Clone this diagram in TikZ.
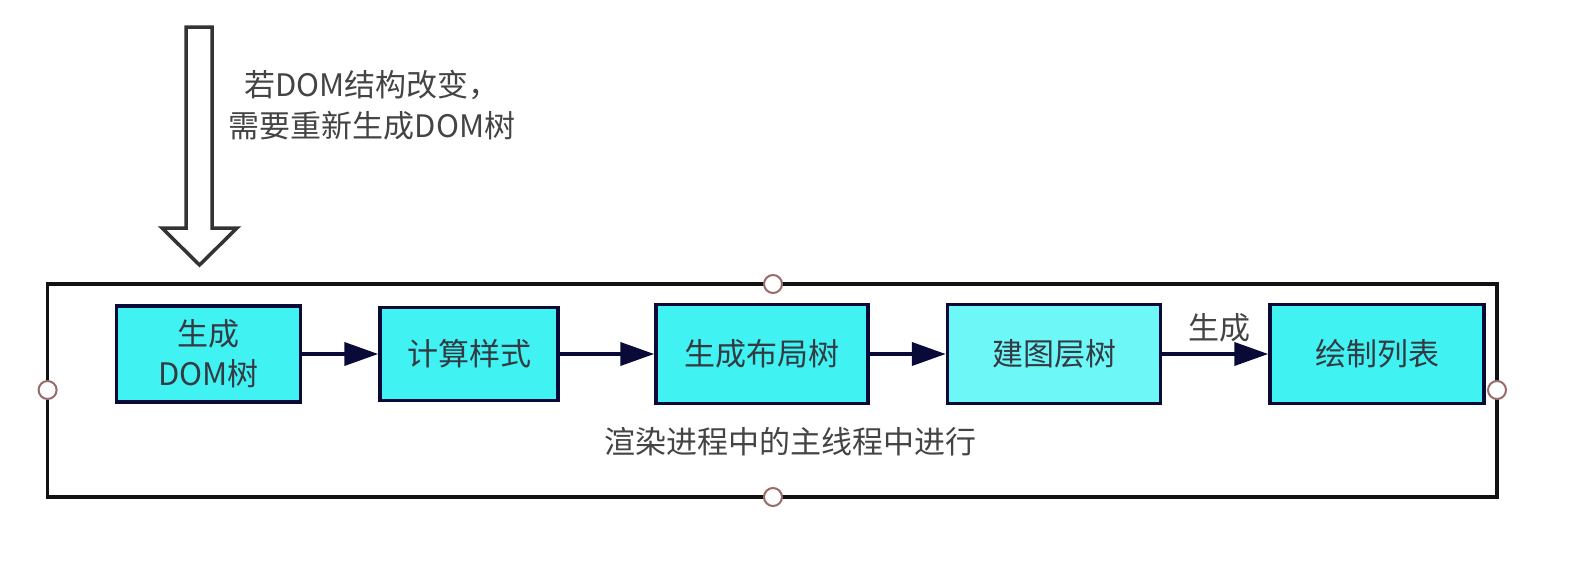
\documentclass[tikz,border=0pt]{standalone}
\usepackage{fontspec}
\setmainfont{Noto Sans CJK SC}
\usetikzlibrary{arrows.meta}
\definecolor{boxcyan}{HTML}{40F2F2}
\definecolor{boxlight}{HTML}{6EF7F7}
\definecolor{navy}{HTML}{0A0A38}
\definecolor{txt}{HTML}{333A42}
\definecolor{lbl}{HTML}{444444}
\definecolor{ring}{HTML}{9A6A6A}
\begin{document}
\begin{tikzpicture}[x=1pt,y=-1pt,
  stepbox/.style={draw=navy,line width=3.5pt,fill=boxcyan,inner sep=0pt,
    font=\fontsize{31}{40}\selectfont,text=txt,align=center},
  flow/.style={draw=navy,line width=4pt,-{Triangle[length=34pt,width=23pt]}},
  port/.style={circle,draw=ring,line width=2pt,fill=white,minimum size=18pt,inner sep=0pt},
  lab/.style={font=\fontsize{31}{41}\selectfont,text=lbl,align=center}]
\useasboundingbox (0,0) rectangle (1588,560);
% frame
\draw[line width=3.5pt,draw=black!93] (47.6,284) rectangle (1497,497);
\coordinate (ft) at (773,284);
\coordinate (fb) at (773,497);
\coordinate (fl) at (47.6,390);
\coordinate (fr) at (1497,390);
\node[port] (pt) at (ft) {};
\node[port] (pb) at (fb) {};
\node[port] (pl) at (fl) {};
\node[port] (pr) at (fr) {};
% big arrow
\draw[line width=3.5pt,draw=black!80,fill=white,line join=miter]
  (186,27) -- (212,27) -- (212,228) -- (237,228) -- (199.5,265) -- (162,228) -- (186,228) -- cycle;
\node[lab] (note) at (372,105) {若DOM结构改变，\\需要重新生成DOM树};
% boxes
\node[stepbox,minimum width=184pt,minimum height=96pt] (b1) at (208.6,354) {生成\\DOM树};
\node[stepbox,minimum width=178pt,minimum height=93pt] (b2) at (469,354) {计算样式};
\node[stepbox,minimum width=212pt,minimum height=99pt] (b3) at (762,354) {生成布局树};
\node[stepbox,fill=boxlight,minimum width=213pt,minimum height=99pt] (b4) at (1054,354) {建图层树};
\node[stepbox,minimum width=214pt,minimum height=99pt] (b5) at (1377,354) {绘制列表};
\draw[flow] (b1) -- (b2);
\draw[flow] (b2) -- (b3);
\draw[flow] (b3) -- (b4);
\draw[flow] (b4) -- node[lab,above=6pt,xshift=4pt] (gen) {生成} (b5);
\node[lab] (main) at (790,442) {渲染进程中的主线程中进行};
\end{tikzpicture}
\end{document}
